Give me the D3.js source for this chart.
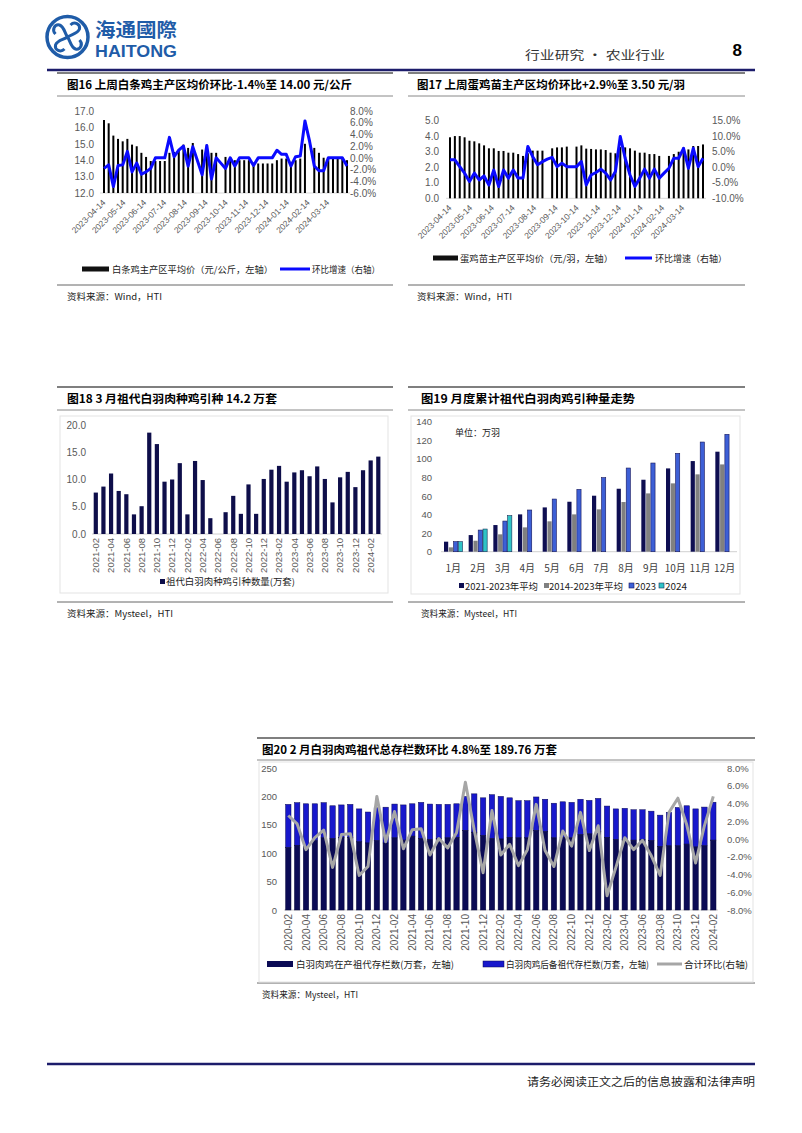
<!DOCTYPE html>
<html><head><meta charset="utf-8">
<script src="https://cdn.jsdelivr.net/npm/d3@7/dist/d3.min.js"></script>
<style>body{margin:0;background:#fff;}svg{display:block;}</style>
</head><body>
<svg id="page" width="802" height="1133"></svg>
<script>
// ---------------- DATA ----------------
const weeks = ["2023-04-14","2023-04-21","2023-04-28","2023-05-05","2023-05-12","2023-05-19","2023-05-26","2023-06-02","2023-06-09","2023-06-16","2023-06-23","2023-06-30","2023-07-07","2023-07-14","2023-07-21","2023-07-28","2023-08-04","2023-08-11","2023-08-18","2023-08-25","2023-09-01","2023-09-08","2023-09-15","2023-09-22","2023-09-29","2023-10-06","2023-10-13","2023-10-20","2023-10-27","2023-11-03","2023-11-10","2023-11-17","2023-11-24","2023-12-01","2023-12-08","2023-12-15","2023-12-22","2023-12-29","2024-01-05","2024-01-12","2024-01-19","2024-01-26","2024-02-02","2024-02-09","2024-02-16","2024-02-23","2024-03-01","2024-03-08","2024-03-15","2024-03-22","2024-03-29","2024-04-05","2024-04-12"];
const weekTicks = ["2023-04-14","2023-05-14","2023-06-14","2023-07-14","2023-08-14","2023-09-14","2023-10-14","2023-11-14","2023-12-14","2024-01-14","2024-02-14","2024-03-14"];
const broilerPrice = [16.45,16.25,15.5,15.3,15.15,15.3,14.95,14.85,14.45,14.2,13.95,13.95,13.95,13.95,14.45,14.5,14.65,14.95,14.75,15.05,null,14.65,14.95,14.45,14.45,null,14.2,14.2,14.0,14.0,14.0,14.0,13.8,13.8,13.8,13.8,13.8,14.0,14.1,14.1,13.9,14.0,14.1,15.0,null,14.75,14.45,14.15,14.15,14.15,14.15,14.15,14.0];
const broilerPct = [-1.8,-1.2,-4.9,-1.3,-1.2,1.1,-2.4,-0.9,-2.8,-2.4,-1.8,0,0,0,3.5,0.2,1.3,2.0,-1.4,1.9,-0.5,-2.9,2.1,-3.6,0,-0.9,-1.8,0,-1.4,0,0,0,-1.3,0,0,0,0,1.3,0.6,0.6,-1.4,0.2,0.3,6.3,2.8,-1.4,-2.2,-2.2,0,0,0,0,-1.4];
const chickPrice = [3.93,4.01,4.01,3.93,3.71,3.67,3.54,3.41,3.22,3.22,3.05,3.05,2.94,2.94,2.85,2.73,2.9,3.07,3.07,3.07,null,3.22,3.28,3.28,3.33,null,3.33,3.41,3.2,3.18,3.15,3.15,3.11,2.94,2.9,3.3,3.28,3.22,3.07,2.94,2.94,2.85,2.85,2.73,null,2.73,2.85,3.0,3.28,3.15,3.37,3.37,3.47];
const chickPct = [2.4,2.4,0.2,-1.9,-4.6,-1.9,-4.1,-2.8,-5.7,-0.9,-6.2,-0.9,-3.5,-0.9,-3.5,-3.5,6.7,3.4,0.8,1.8,2.6,3.2,0.2,1.3,0.2,0.2,0.2,1.8,-5.7,-2.5,-1.7,-0.6,-1.9,-4.1,-1.4,9.9,2.9,-2.5,-6.2,-3.5,-0.6,-3.5,-0.6,-3.5,-1.9,-0.3,2.9,2.9,6.1,-0.3,6.1,0.2,2.9];

const months18 = ["2021-02","2021-03","2021-04","2021-05","2021-06","2021-07","2021-08","2021-09","2021-10","2021-11","2021-12","2022-01","2022-02","2022-03","2022-04","2022-05","2022-06","2022-07","2022-08","2022-09","2022-10","2022-11","2022-12","2023-01","2023-02","2023-03","2023-04","2023-05","2023-06","2023-07","2023-08","2023-09","2023-10","2023-11","2023-12","2024-01","2024-02","2024-03"];
const introduced = [7.6,8.7,11.1,7.9,7.3,3.6,5.1,18.6,16.5,9.6,10.0,13.0,3.6,13.4,9.9,2.9,null,4.0,7.0,3.7,9.1,3.7,10.1,11.8,12.5,9.6,11.3,11.7,10.6,12.4,10.1,5.8,10.4,11.4,8.6,11.7,13.5,14.2];

const months19 = ["1月","2月","3月","4月","5月","6月","7月","8月","9月","10月","11月","12月"];
const avg2123 = [10.8,17.9,28.7,40.2,47.7,53.8,60.3,67.8,77.5,89.7,97.6,107.7];
const avg1423 = [4.7,11.8,18.7,26.2,32.7,40.2,45.6,53.5,62.8,73.6,83.3,94.0];
const cum2023 = [10.8,23.3,33.0,44.9,56.7,67.1,79.7,90.1,95.5,105.9,118.1,126.4];
const cum2024 = [10.8,24.4,38.8];

const months20 = ["2020-02","2020-03","2020-04","2020-05","2020-06","2020-07","2020-08","2020-09","2020-10","2020-11","2020-12","2021-01","2021-02","2021-03","2021-04","2021-05","2021-06","2021-07","2021-08","2021-09","2021-10","2021-11","2021-12","2022-01","2022-02","2022-03","2022-04","2022-05","2022-06","2022-07","2022-08","2022-09","2022-10","2022-11","2022-12","2023-01","2023-02","2023-03","2023-04","2023-05","2023-06","2023-07","2023-08","2023-09","2023-10","2023-11","2023-12","2024-01","2024-02"];
const stockProd = [110,114,112,122,127,126,128,128,120,118,122,118,127,123,130,126,124,126,127,128,140,137,131,126,125,128,127,127,140,138,127,128,127,133,134,138,128,124,124,123,124,122,112,113,113,116,111,113,123];
const stockReserve = [76,75,75,65,62,57.5,57,58,58,54.5,58,63,59.5,62,57,63.5,62.5,60,59,59,60,67.5,66.5,77,75,69.5,65.5,65.5,59,57,61,62.5,62.5,62,59,58.5,55,54,55,53.5,52.5,52,55,59,67.5,67.5,67,68.2,66.76];
const stockPct = [2.65,1.7,-1.2,0.15,1.0,-3.2,0.5,0.6,-4.1,-3.1,4.8,-0.3,3.1,-1.1,1.05,1.15,-1.8,0.05,-1.0,0.7,6.4,1.0,-3.8,3.2,-1.8,-0.6,-3.0,-1.2,3.9,-1.3,-3.1,0.9,-0.8,3.0,-1.3,1.5,-6.4,-3.2,0.15,-1.2,-0.15,-1.9,-4.1,3.0,4.6,1.6,-2.7,1.5,4.8];

// ---------------- HELPERS ----------------
const CJK = '"Noto Sans CJK SC","Noto Sans",sans-serif';
const LAT = '"Liberation Sans",Arial,sans-serif';
const GRAY = "#595959";
const svg = d3.select("#page");
svg.append("rect").attr("width",802).attr("height",1133).attr("fill","#fff");

function txt(x,y,s,o={}){
  const t = svg.append("text").attr("x",x).attr("y",y).text(s)
    .attr("font-family",o.ff||CJK).attr("font-size",o.fs||10).attr("fill",o.fill||"#000");
  if(o.fw) t.attr("font-weight",o.fw);
  if(o.anchor) t.attr("text-anchor",o.anchor);
  if(o.len) t.attr("textLength",o.len).attr("lengthAdjust","spacingAndGlyphs");
  return t;
}
function hline(x1,x2,y,c,w){svg.append("line").attr("x1",x1).attr("x2",x2).attr("y1",y).attr("y2",y).attr("stroke",c).attr("stroke-width",w);}
function styleAxis(g,fs){g.select(".domain").remove();g.selectAll("text").attr("font-family",LAT).attr("font-size",fs||10).attr("fill",GRAY);}
const pf = d => d.toFixed(1)+"%";
const f1 = d => d.toFixed(1);

function panel(x0,x1,yTop,yUnder,yBot,title,tx,tlen,src,sx,slen){
  hline(x0,x1,yTop,"#555",1.5);
  hline(x0,x1,yUnder,"#888",1);
  hline(x0,x1,yBot,"#666",1);
  txt(tx,yTop+(yUnder-yTop)/2+4.5,title,{fs:11.5,fw:"bold",len:tlen});
  txt(sx,yBot+15,src,{fs:9,fill:"#222",len:slen});
}

// ---------------- HEADER / FOOTER ----------------
const lg = svg.append("g").attr("transform","translate(67.5,37)");
lg.append("circle").attr("r",20.5).attr("fill","none").attr("stroke","#1f5ca8").attr("stroke-width",3.5);
[0,90,180,270].forEach(a=>lg.append("path").attr("d","M0,0 C4,-3 10,-3 12,-8 C13,-13 7,-16 3,-12")
  .attr("transform",`rotate(${a})`).attr("fill","none").attr("stroke","#1f5ca8").attr("stroke-width",3));
txt(95,37,"海通國際",{fs:19,fw:"bold",fill:"#1f5ca8",len:82});
txt(95,57,"HAITONG",{ff:LAT,fs:16.5,fw:"bold",fill:"#1f5ca8",len:82});
txt(525,60,"行业研究 • 农业行业",{fs:12,fill:"#333",len:140});
txt(742,56,"8",{ff:LAT,fs:17,fw:"bold",anchor:"end"});
hline(47,755,70,"#1c1c6b",2.5);
hline(47,755,1064,"#1c1c6b",2.5);
txt(527,1086,"请务必阅读正文之后的信息披露和法律声明",{fs:11,fill:"#222",len:228});

// ---------------- WEEKLY DUAL AXIS CHARTS ----------------
const parse = d3.timeParse("%Y-%m-%d");
function weekly(o){
  const dates = weeks.map(parse);
  const x = d3.scaleTime().domain([dates[0],dates[dates.length-1]]).range([o.x0,o.x1]);
  const yL = d3.scaleLinear().domain(o.lDom).range([o.yB,o.yT]);
  const yR = d3.scaleLinear().domain(o.rDom).range([o.yB,o.yT]);
  styleAxis(svg.append("g").attr("transform",`translate(${o.lx},0)`)
    .call(d3.axisLeft(yL).tickValues(o.lTicks).tickFormat(f1).tickSize(0).tickPadding(0)));
  styleAxis(svg.append("g").attr("transform",`translate(${o.rx},0)`)
    .call(d3.axisRight(yR).tickValues(o.rTicks).tickFormat(pf).tickSize(0).tickPadding(0)));
  hline(o.x0-4,o.x1+3,o.yB,"#d9d9d9",1);
  svg.append("g").selectAll("rect").data(o.bars.map((v,i)=>({d:dates[i],v})).filter(e=>e.v!=null)).join("rect")
    .attr("x",e=>x(e.d)-1).attr("width",2).attr("y",e=>yL(e.v)).attr("height",e=>o.yB-yL(e.v)).attr("fill","#000");
  svg.append("path").datum(o.pct).attr("d",d3.line().x((v,i)=>x(dates[i])).y(v=>yR(v)))
    .attr("fill","none").attr("stroke","#0a0aff").attr("stroke-width",3).attr("stroke-linejoin","round");
  weekTicks.forEach(s=>{
    svg.append("text").attr("transform",`translate(${x(parse(s))},${o.yB+8}) rotate(-45)`)
      .attr("text-anchor","end").attr("dy","0.35em").attr("font-family",LAT).attr("font-size",8.5).attr("fill",GRAY).text(s);
  });
  svg.append("rect").attr("x",o.lg[0]).attr("y",o.lgY-2.5).attr("width",o.lg[1]-o.lg[0]).attr("height",5).attr("fill","#111");
  txt(o.lg[2],o.lgY+3.5,o.lgText1,{fs:9,fill:"#222",len:o.lg[3]});
  hline(o.lg[4],o.lg[5],o.lgY,"#0a0aff",3);
  txt(o.lg[6],o.lgY+3.5,"环比增速（右轴）",{fs:9,fill:"#222",len:o.lg[7]});
}

panel(57,393,73,96,285,"图16 上周白条鸡主产区均价环比-1.4%至 14.00 元/公斤",67,285,"资料来源：Wind，HTI",67,95);
weekly({x0:104,x1:347,yT:111,yB:193,lx:94,rx:350,lDom:[12,17],lTicks:[12,13,14,15,16,17],rDom:[-6,8],rTicks:[-6,-4,-2,0,2,4,6,8],
  bars:broilerPrice,pct:broilerPct,lgY:269,lgText1:"白条鸡主产区平均价（元/公斤，左轴）",lg:[82,109,112,161,280,310,312,68]});

panel(408,745,73,96,285,"图17 上周蛋鸡苗主产区均价环比+2.9%至 3.50 元/羽",417,268,"资料来源：Wind，HTI",417,95);
weekly({x0:450,x1:703,yT:120.7,yB:198.3,lx:439,rx:712,lDom:[0,5],lTicks:[0,1,2,3,4,5],rDom:[-10,15],rTicks:[-10,-5,0,5,10,15],
  bars:chickPrice,pct:chickPct,lgY:258,lgText1:"蛋鸡苗主产区平均价（元/羽，左轴）",lg:[433,458,460,153,625,652,655,72]});

// ---------------- CHART 18 ----------------
panel(57,393,387,410,602,"图18 3 月祖代白羽肉种鸡引种 14.2 万套",67,210,"资料来源：Mysteel，HTI",67,106);
svg.append("rect").attr("x",60).attr("y",416).attr("width",328).attr("height",177).attr("fill","none").attr("stroke","#e3e3e3");
{
  const x = d3.scalePoint().domain(months18).range([95.8,378.3]);
  const y = d3.scaleLinear().domain([0,20]).range([534,425]);
  styleAxis(svg.append("g").attr("transform","translate(86,0)")
    .call(d3.axisLeft(y).tickValues([0,5,10,15,20]).tickFormat(f1).tickSize(0).tickPadding(0)));
  hline(92,382,534,"#d0d0d0",1);
  svg.append("g").selectAll("rect").data(months18.map((m,i)=>({m,v:introduced[i]})).filter(e=>e.v!=null)).join("rect")
    .attr("x",e=>x(e.m)-2.1).attr("width",4.2).attr("y",e=>y(e.v)).attr("height",e=>534-y(e.v)).attr("fill","#0e0e4a");
  months18.forEach((m,i)=>{ if(i%2===0)
    svg.append("text").attr("transform",`translate(${x(m)},538) rotate(-90)`).attr("text-anchor","end").attr("dy","0.35em")
      .attr("font-family",LAT).attr("font-size",9.5).attr("fill",GRAY).text(m);});
  svg.append("rect").attr("x",160).attr("y",579).attr("width",5).attr("height",5).attr("fill","#0e0e4a");
  txt(166,585,"祖代白羽肉种鸡引种数量(万套)",{fs:9,fill:"#222",len:129});
}

// ---------------- CHART 19 ----------------
panel(408,745,387,410,602,"图19 月度累计祖代白羽肉鸡引种量走势",421,214,"资料来源：Mysteel，HTI",421,96);
svg.append("rect").attr("x",411).attr("y",416).attr("width",329).attr("height",178).attr("fill","none").attr("stroke","#e3e3e3");
{
  const keys = ["a","b","c","d"];
  const series = {a:avg2123,b:avg1423,c:cum2023,d:cum2024};
  const fills = {a:"#0e0e52",b:"#808080",c:"#3d5fd6",d:"#2fc3c6"};
  const strokes = {a:"none",b:"none",c:"#16165a",d:"#16305a"};
  const labels = {a:"2021-2023年平均",b:"2014-2023年平均",c:"2023",d:"2024"};
  const x = d3.scaleBand().domain(months19).range([441,737]);
  const xs = d3.scaleBand().domain(keys).range([3,21.5]).paddingInner(0.12);
  const y = d3.scaleLinear().domain([0,140]).range([551.7,421.7]);
  styleAxis(svg.append("g").attr("transform","translate(432,0)")
    .call(d3.axisLeft(y).tickValues(d3.range(0,141,20)).tickSize(0).tickPadding(0)),9.5);
  hline(441,737,551.7,"#d0d0d0",1);
  keys.forEach(k=>{
    svg.append("g").selectAll("rect").data(series[k].map((v,i)=>({m:months19[i],v}))).join("rect")
      .attr("x",e=>x(e.m)+xs(k)).attr("width",xs.bandwidth()).attr("y",e=>y(e.v)).attr("height",e=>551.7-y(e.v))
      .attr("fill",fills[k]).attr("stroke",strokes[k]).attr("stroke-width",0.6);
  });
  months19.forEach(m=>txt(x(m)+x.bandwidth()/2,572,m,{fs:10,fill:"#404040",anchor:"middle"}));
  txt(455,436,"单位：万羽",{fs:9,fill:"#222"});
  const lx = {a:[459,465,73],b:[544,549,74],c:[629,635,21],d:[659,665,22]};
  keys.forEach(k=>{
    svg.append("rect").attr("x",lx[k][0]).attr("y",583).attr("width",5).attr("height",5).attr("fill",fills[k]).attr("stroke",strokes[k]).attr("stroke-width",0.6);
    txt(lx[k][1],589.5,labels[k],{fs:9.5,fill:"#222",len:lx[k][2]});
  });
}

// ---------------- CHART 20 ----------------
panel(257,755,738,760,983,"图20 2 月白羽肉鸡祖代总存栏数环比 4.8%至 189.76 万套",262,295,"资料来源：Mysteel，HTI",262,96);
svg.append("rect").attr("x",259).attr("y",762).attr("width",494).attr("height",220).attr("fill","none").attr("stroke","#e3e3e3");
{
  const x = d3.scalePoint().domain(months20).range([288.3,713.3]);
  const yL = d3.scaleLinear().domain([0,250]).range([910,768]);
  const yR = d3.scaleLinear().domain([-8,8]).range([910,768]);
  styleAxis(svg.append("g").attr("transform","translate(277,0)")
    .call(d3.axisLeft(yL).tickValues(d3.range(0,251,50)).tickSize(0).tickPadding(0)),9.5);
  styleAxis(svg.append("g").attr("transform","translate(727,0)")
    .call(d3.axisRight(yR).tickValues(d3.range(-8,9,2)).tickFormat(pf).tickSize(0).tickPadding(0)),9.5);
  hline(284,718,910,"#d0d0d0",1);
  const data = months20.map((m,i)=>({m,p:stockProd[i],r:stockReserve[i]}));
  const bw = 5.4;
  svg.append("g").selectAll("rect").data(data).join("rect")
    .attr("x",d=>x(d.m)-bw/2).attr("width",bw).attr("y",d=>yL(d.p+d.r)).attr("height",d=>yL(d.p)-yL(d.p+d.r))
    .attr("fill","#1818cc").attr("stroke","#0a0a55").attr("stroke-width",0.5);
  svg.append("g").selectAll("rect").data(data).join("rect")
    .attr("x",d=>x(d.m)-bw/2).attr("width",bw).attr("y",d=>yL(d.p)).attr("height",d=>910-yL(d.p))
    .attr("fill","#0b0b55").attr("stroke","#07073a").attr("stroke-width",0.5);
  svg.append("path").datum(stockPct).attr("d",d3.line().x((v,i)=>x(months20[i])).y(v=>yR(v)))
    .attr("fill","none").attr("stroke","#a6a6a6").attr("stroke-width",3).attr("stroke-linejoin","round");
  months20.forEach((m,i)=>{ if(i%2===0)
    svg.append("text").attr("transform",`translate(${x(m)},914) rotate(-90)`).attr("text-anchor","end").attr("dy","0.35em")
      .attr("font-family",LAT).attr("font-size",10).attr("fill",GRAY).text(m);});
  svg.append("rect").attr("x",267).attr("y",961).attr("width",26).attr("height",6).attr("fill","#0b0b55");
  txt(296,967.5,"白羽肉鸡在产祖代存栏数(万套，左轴)",{fs:9.5,fill:"#222",len:158});
  svg.append("rect").attr("x",483).attr("y",961).attr("width",21).attr("height",6).attr("fill","#1818cc").attr("stroke","#0a0a55").attr("stroke-width",0.5);
  txt(506,967.5,"白羽肉鸡后备祖代存栏数(万套，左轴)",{fs:9.5,fill:"#222",len:143});
  hline(657,682,964,"#a6a6a6",3);
  txt(684,967.5,"合计环比(右轴)",{fs:9.5,fill:"#222",len:64});
}
</script>
</body></html>
